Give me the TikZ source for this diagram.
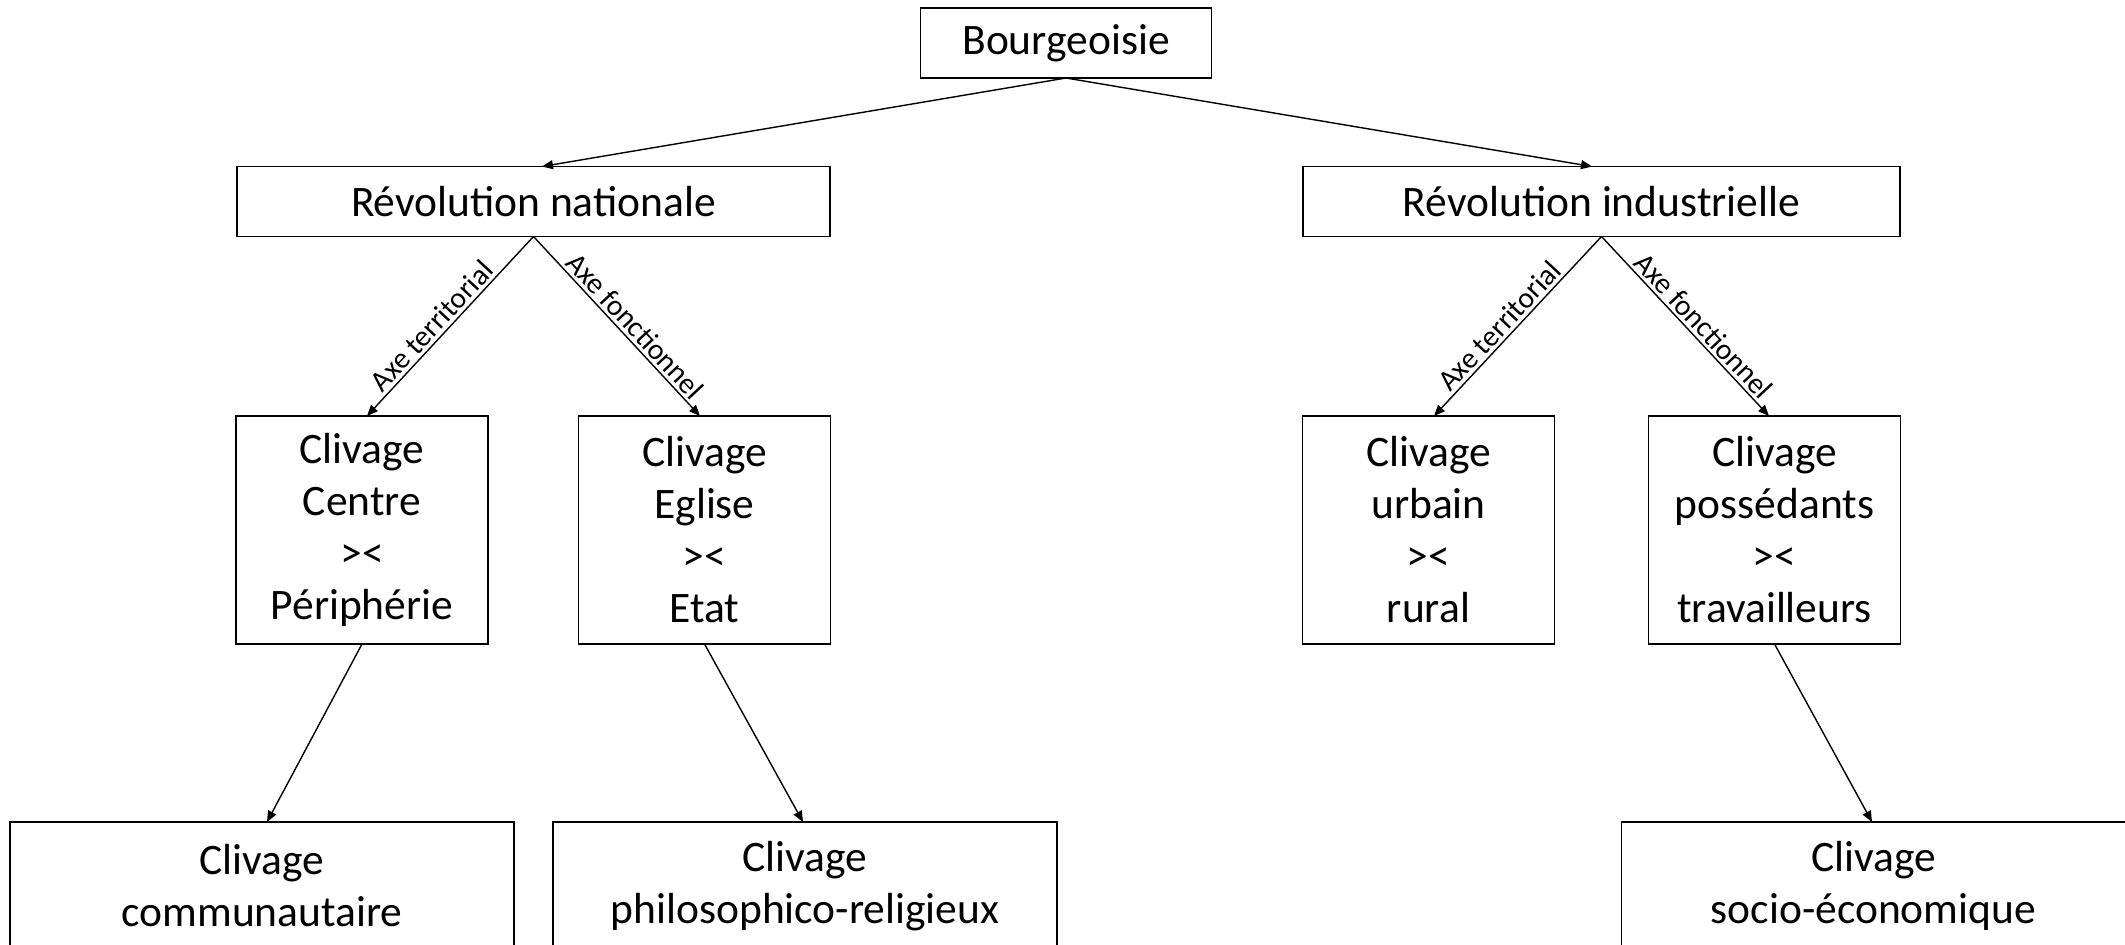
\documentclass[tikz,border=0pt]{standalone}
\usepackage{fontspec}
\setmainfont{Carlito}
\usetikzlibrary{arrows.meta}
\begin{document}
\begin{tikzpicture}[x=0.5pt,y=-0.5pt,
  box/.style={draw=black,line width=0.9pt,inner sep=0pt,outer sep=0pt,align=center,
    font=\fontsize{21.75pt}{26pt}\selectfont,text=black},
  topbox/.style={box,minimum height=35pt},
  tallbox/.style={box,minimum width=126pt,minimum height=114pt},
  widebox/.style={box,minimum width=252pt,minimum height=64pt},
  conn/.style={line width=0.7pt,-{Triangle[length=5.5pt,width=4.5pt]}},
  axelabel/.style={font=\fontsize{14.75pt}{17pt}\selectfont,sloped,above,inner sep=1.5pt,pos=0.55}]
\clip (0,0) rectangle (2125,944);
\fill[white] (0,0) rectangle (2125,944);

\node[topbox,minimum width=145.5pt] (B) at (1066,43) {Bourgeoisie};
\node[topbox,minimum width=296.5pt] (RN) at (533.5,201.5) {Révolution nationale};
\node[topbox,minimum width=298.5pt] (RI) at (1601.5,201.5) {Révolution industrielle};

\node[tallbox] (CCP) at (362,530) {Clivage\\Centre\\><\\Périphérie};
\node[tallbox] (CEE) at (704.5,530) {Clivage\\Eglise\\><\\Etat};
\node[tallbox] (CUR) at (1428.5,530) {Clivage\\urbain\\><\\rural};
\node[tallbox] (CPT) at (1774.5,530) {Clivage\\possédants\\><\\travailleurs};

\node[widebox] (COM) at (262,886) {Clivage\\communautaire};
\node[widebox] (PHI) at (805,886) {Clivage\\philosophico-religieux};
\node[widebox] (SOC) at (1873.5,886) {Clivage\\socio-économique};

\draw[conn] (B.south) -- ([xshift=4.25pt]RN.north);
\draw[conn] (B.south) -- ([xshift=-4.75pt]RI.north);

\draw[conn] (RN.south) -- ([xshift=2.5pt]CCP.north) node[axelabel]{Axe territorial};
\draw[conn] (RN.south) -- ([xshift=-2.25pt]CEE.north) node[axelabel]{Axe fonctionnel};
\draw[conn] (RI.south) -- ([xshift=2.75pt]CUR.north) node[axelabel]{Axe territorial};
\draw[conn] (RI.south) -- ([xshift=-2.75pt]CPT.north) node[axelabel]{Axe fonctionnel};

\draw[conn] (CCP.south) -- ([xshift=2.5pt]COM.north);
\draw[conn] (CEE.south) -- ([xshift=-1pt]PHI.north);
\draw[conn] (CPT.south) -- ([xshift=-0.75pt]SOC.north);
\end{tikzpicture}
\end{document}
